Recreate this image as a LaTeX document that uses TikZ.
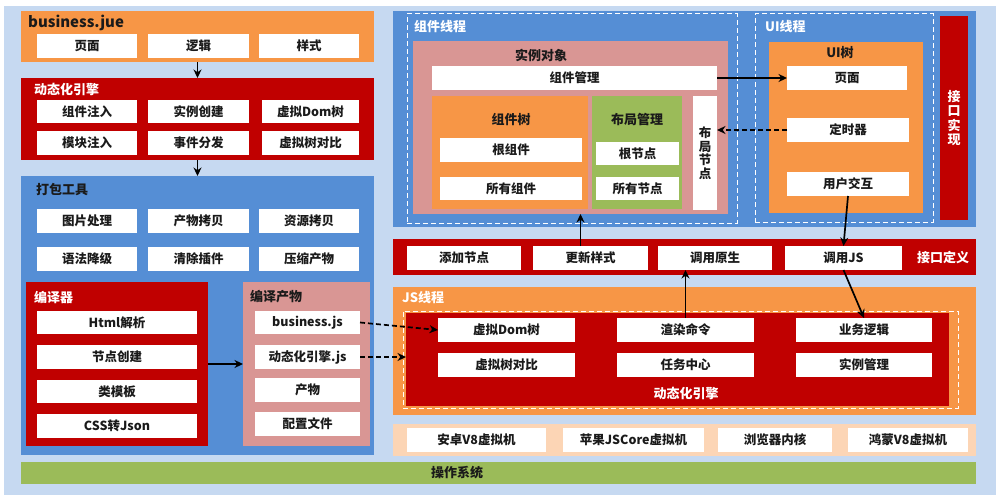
\documentclass[tikz,border=0pt]{standalone}
\usepackage{fontspec}
\setmainfont{Noto Sans CJK SC}
\usetikzlibrary{arrows.meta}
\definecolor{bgb}{HTML}{C6D9F1}
\definecolor{orn}{HTML}{F79646}
\definecolor{redd}{HTML}{C00000}
\definecolor{blu}{HTML}{558ED5}
\definecolor{pnk}{HTML}{D99694}
\definecolor{grn}{HTML}{9BBB59}
\definecolor{pch}{HTML}{FCD5B5}
\definecolor{txt}{HTML}{1A1A1A}
\newcommand\B[7]{\node[#1, minimum width={(#5-#3)*1pt}, minimum height={(#6-#4)*1pt}, anchor=north west, inner sep=0pt, outer sep=0pt, align=center] (#2) at (#3,#4) {#7};}
\tikzset{
  wb/.style={fill=white, text=txt, font=\bfseries\fontsize{12.5}{13.5}\selectfont},
  pan/.style={fill=#1},
  ttl/.style={font=\bfseries\fontsize{13}{15}\selectfont, inner sep=0pt, text=txt},
  wttl/.style={ttl, text=white},
  arr/.style={-{Stealth[length=8.5pt,width=8pt]}, line width=1.7pt, black},
  darr/.style={arr, dash pattern=on 5pt off 3pt},
  wdash/.style={draw=white, line width=1pt, dash pattern=on 5pt off 3pt}
}
\begin{document}
\begin{tikzpicture}[x=1pt,y=-1pt]
\useasboundingbox (0,0) rectangle (1001,500);
\fill[white] (0,0) rectangle (1001,500);
\fill[bgb] (4,6) rectangle (996,495);
% ---------- left column ----------
\B{pan=orn}{biz}{21}{11}{374}{62}{}
\node[ttl, anchor=west, font=\bfseries\fontsize{15}{17}\selectfont] (bizt) at (28,23) {business.jue};
\B{wb}{b1}{37}{34}{137}{58}{页面}
\B{wb}{b2}{148}{34}{249}{58}{逻辑}
\B{wb}{b3}{259}{34}{359}{58}{样式}

\B{pan=redd}{eng}{21}{78}{374}{160}{}
\node[wttl, anchor=west] (engt) at (34,89) {动态化引擎};
\B{wb}{e1}{37}{100}{137}{123}{组件注入}
\B{wb}{e2}{148}{100}{249}{123}{实例创建}
\B{wb}{e3}{262}{100}{359}{123}{虚拟Dom树}
\B{wb}{e4}{37}{131}{137}{155}{模块注入}
\B{wb}{e5}{148}{131}{249}{155}{事件分发}
\B{wb}{e6}{262}{131}{359}{155}{虚拟树对比}

\B{pan=blu}{pack}{21}{176}{374}{455}{}
\node[ttl, anchor=west] (packt) at (36,190) {打包工具};
\B{wb}{p1}{37}{209}{137}{233}{图片处理}
\B{wb}{p2}{148}{209}{249}{233}{产物拷贝}
\B{wb}{p3}{259}{209}{359}{233}{资源拷贝}
\B{wb}{p4}{37}{247}{137}{271}{语法降级}
\B{wb}{p5}{148}{247}{249}{271}{清除插件}
\B{wb}{p6}{259}{247}{359}{271}{压缩产物}

\B{pan=redd}{comp}{26}{282}{208}{446}{}
\node[wttl, anchor=west] (compt) at (34,297) {编译器};
\B{wb}{c1}{37}{311}{197}{334}{Html解析}
\B{wb}{c2}{37}{345}{197}{369}{节点创建}
\B{wb}{c3}{37}{380}{197}{403}{类模板}
\B{wb}{c4}{37}{414}{197}{438}{CSS转Json}

\B{pan=pnk}{outp}{243}{282}{370}{446}{}
\node[ttl, anchor=west] (outpt) at (250,297) {编译产物};
\B{wb}{o1}{255}{311}{360}{334}{business.js}
\B{wb}{o2}{255}{345}{360}{369}{动态化引擎.js}
\B{wb}{o3}{255}{378}{360}{402}{产物}
\B{wb}{o4}{255}{412}{360}{436}{配置文件}

% ---------- right: component / UI threads ----------
\B{pan=blu}{thr}{393}{11}{976}{227}{}
\B{wdash}{cthr}{407}{14}{737}{223}{}
\node[wttl, anchor=west] (cthrt) at (414,27) {组件线程};
\B{pan=pnk}{shili}{413}{41}{728}{214}{}
\node[ttl] (shilit) at (541,55) {实例对象};
\B{wb}{zjgl}{432}{66}{717}{90}{组件管理}
\B{pan=orn}{zjs}{432}{96}{588}{209}{}
\node[ttl] (zjst) at (511,120) {组件树};
\B{wb}{gzj}{440}{138}{582}{162}{根组件}
\B{wb}{syzj}{440}{177}{582}{200}{所有组件}
\B{pan=grn}{bjgl}{592}{96}{682}{209}{}
\node[ttl] (bjglt) at (637,120) {布局管理};
\B{wb}{gjd}{596}{142}{679}{165}{根节点}
\B{wb}{syjd}{596}{177}{679}{200}{所有节点}
\B{wb}{bjjd}{693}{96}{717}{210}{布\\局\\节\\点}

\B{wdash}{uthr}{755}{14}{933}{222}{}
\node[wttl, anchor=west] (uthrt) at (765,27) {UI线程};
\B{pan=orn}{uis}{769}{42}{923}{213}{}
\node[ttl] (uist) at (840,53) {UI树};
\B{wb}{ym}{787}{66}{907}{90}{页面}
\B{wb}{dsq}{787}{118}{909}{142}{定时器}
\B{wb}{yhjh}{787}{172}{909}{196}{用户交互}
\B{pan=redd}{jksx}{940}{16}{968}{220}{}
\node[wttl, align=center, font=\bfseries\fontsize{13}{14.5}\selectfont] (jksxt) at (jksx.center) {接\\口\\实\\现};

% ---------- interface definition ----------
\B{pan=redd}{jkdy}{393}{239}{976}{275}{}
\B{wb}{tjjd}{407}{246}{521}{270}{添加节点}
\B{wb}{gxys}{533}{246}{648}{270}{更新样式}
\B{wb}{dyys}{658}{246}{772}{270}{调用原生}
\B{wb}{dyjs}{785}{246}{902}{270}{调用JS}
\node[wttl] (jkdyt) at (943,258) {接口定义};

% ---------- JS thread ----------
\B{pan=orn}{jsthr}{393}{287}{976}{415}{}
\node[wttl, anchor=west] (jsthrt) at (402,298) {JS线程};
\B{wdash}{jsd}{403}{311}{958}{408}{}
\B{pan=redd}{jseng}{406}{313}{949}{406}{}
\B{wb}{xndom}{438}{318}{575}{342}{虚拟Dom树}
\B{wb}{xndb}{438}{353}{575}{377}{虚拟树对比}
\B{wb}{xrml}{617}{318}{754}{342}{渲染命令}
\B{wb}{rwzx}{617}{353}{754}{377}{任务中心}
\B{wb}{ywlj}{796}{318}{932}{342}{业务逻辑}
\B{wb}{slgl}{796}{353}{932}{377}{实例管理}
\node[wttl] (jsengt) at (686,393) {动态化引擎};

% ---------- VMs and OS ----------
\B{pan=pch}{vm}{393}{424}{976}{456}{}
\B{wb}{vm1}{407}{428}{546}{452}{安卓V8虚拟机}
\B{wb}{vm2}{563}{428}{704}{452}{苹果JSCore虚拟机}
\B{wb}{vm3}{718}{428}{832}{452}{浏览器内核}
\B{wb}{vm4}{848}{428}{968}{452}{鸿蒙V8虚拟机}
\B{pan=grn}{os}{21}{462}{976}{484}{}
\node[ttl] (ost) at (457,473) {操作系统};

% ---------- connectors ----------
\draw[arr] (biz.south) -- (eng.north);
\draw[arr] (eng.south) -- (pack.north);
\draw[arr] (comp.east) -- (outp.west);
\draw[arr] (zjgl.east |- ym.west) -- (ym.west);
\draw[darr] (dsq.west) -- (bjjd.east |- dsq.west);
\draw[arr] (yhjh.south) -- (dyjs.north);
\draw[arr] ([xshift=-10pt]gxys.north) -- ([xshift=-10pt]gxys.north |- shili.south);
\draw[arr] (xrml.north) -- (xrml.north |- dyys.south);
\draw[arr] (dyjs.south) -- (ywlj.north);
\draw[darr] (o1.east) -- (xndom.west);
\draw[darr] (o2.east) -- (jseng.west |- o2.east);
\end{tikzpicture}
\end{document}
